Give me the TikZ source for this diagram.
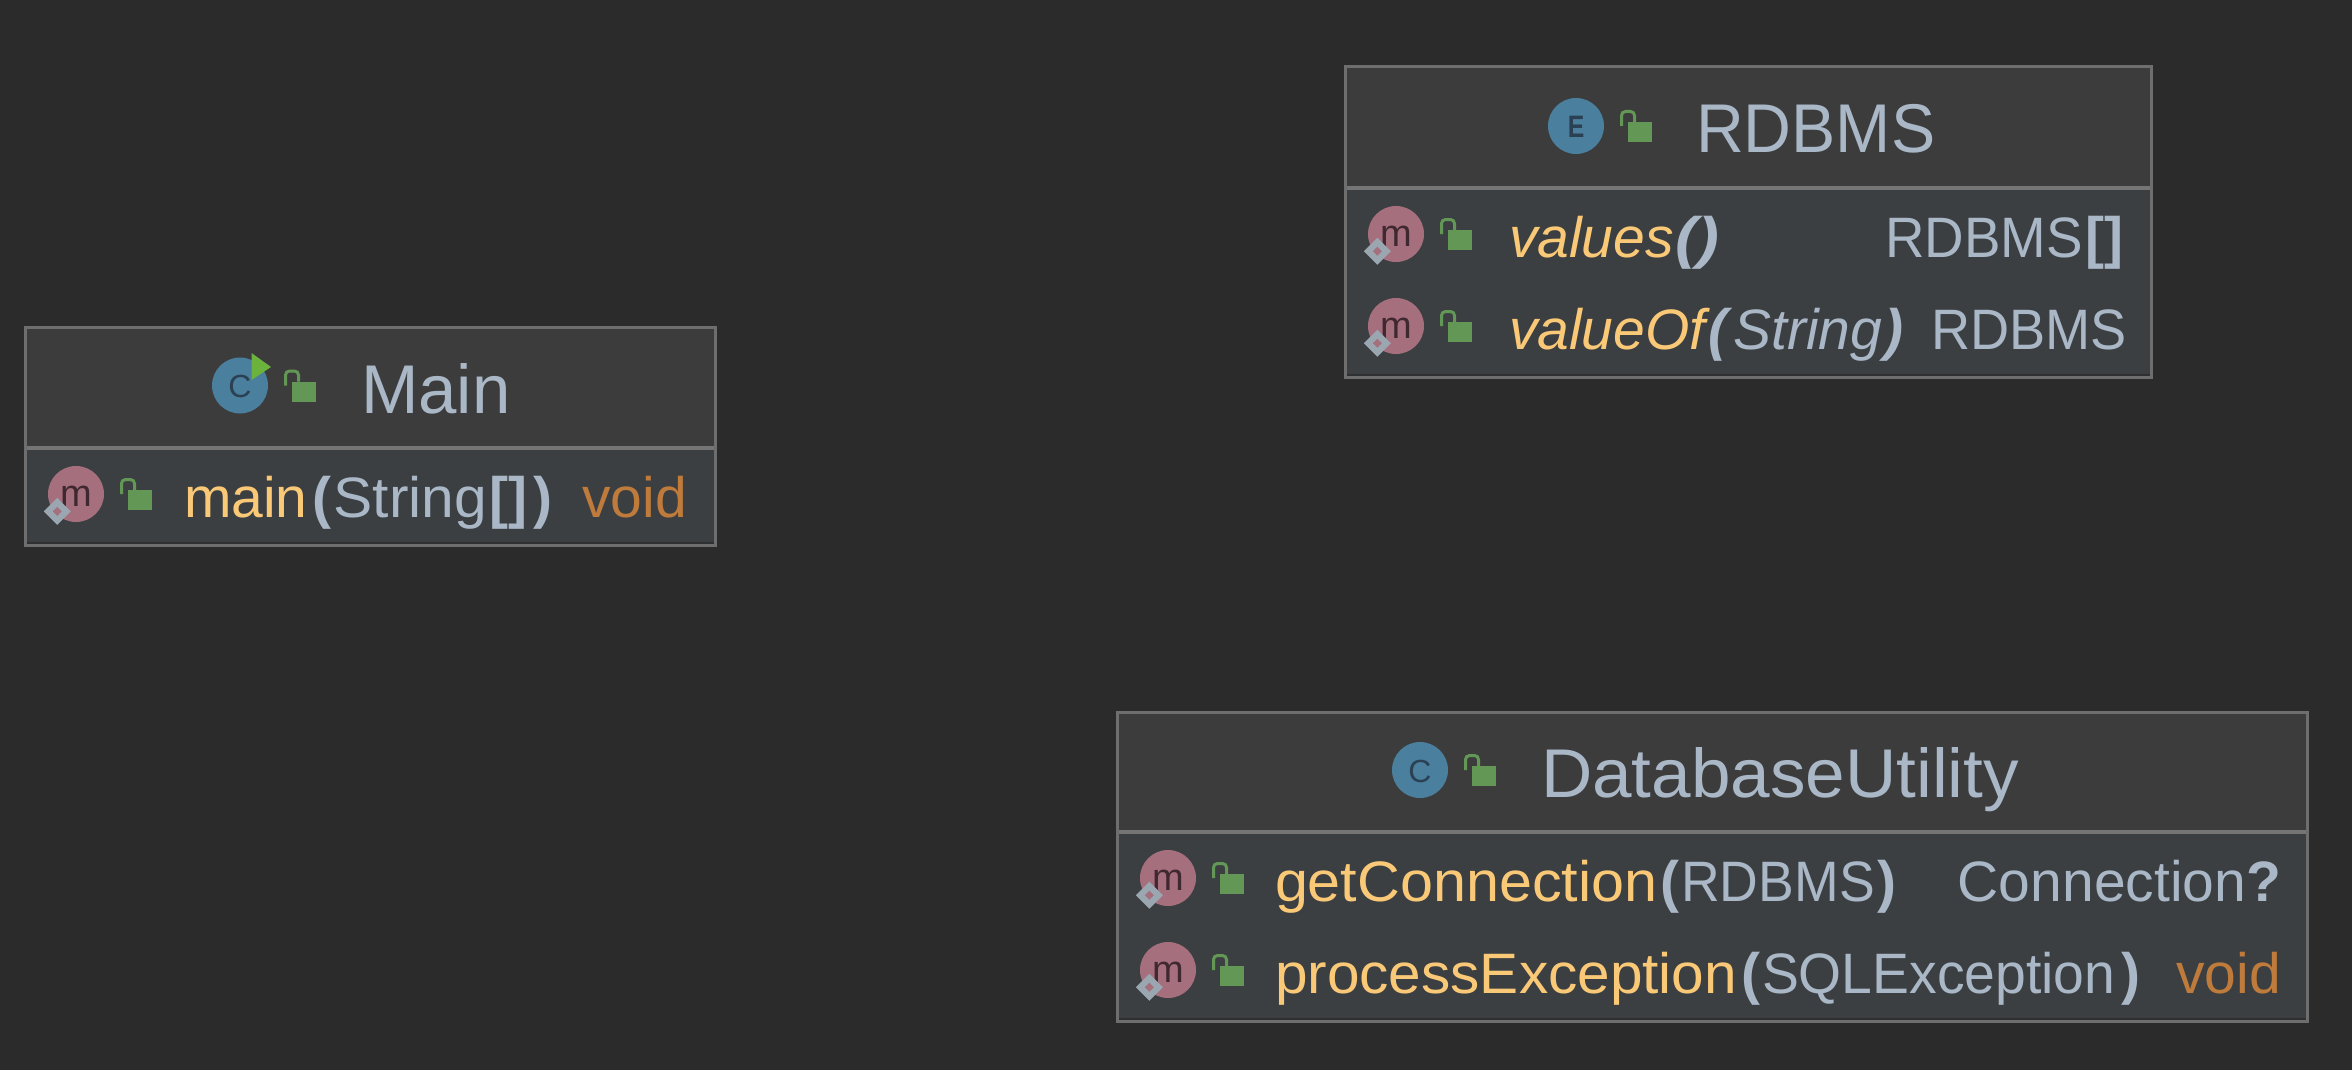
\documentclass[tikz,border=0pt]{standalone}
\usepackage{graphicx}
\usepackage{fontspec}
\setmainfont{Liberation Sans}
\definecolor{canvas}{HTML}{2B2B2B}
\definecolor{headfill}{HTML}{3C3C3C}
\definecolor{bodyfill}{HTML}{3C3F41}
\definecolor{frameline}{HTML}{6E6E6E}
\definecolor{dividerline}{HTML}{757575}
\definecolor{bottomshade}{HTML}{2F3031}
\definecolor{plain}{HTML}{A9B7C6}
\definecolor{methodname}{HTML}{FAC978}
\definecolor{keyword}{HTML}{BE7B3B}
\definecolor{iconblue}{HTML}{4A7F9E}
\definecolor{iconblueink}{HTML}{2B4153}
\definecolor{iconpink}{HTML}{A66F7E}
\definecolor{iconpinkink}{HTML}{3F2830}
\definecolor{lockgreen}{HTML}{629755}
\definecolor{playgreen}{HTML}{6CB33E}
\definecolor{diamondgrey}{HTML}{9AA7B0}
\newcommand{\titlesize}{\fontsize{69}{72}\selectfont}
\newcommand{\rowsize}{\fontsize{57}{60}\selectfont}
\newcommand{\pb}[1]{{\bfseries #1}}
\newcommand{\hs}[2]{\scalebox{#1}[1]{#2}}
\newcommand{\kn}[1]{\kern#1pt\relax}
\tikzset{
  x=1pt,y=-1pt,
  panel/.style={rectangle,inner sep=0pt,outer sep=0pt,anchor=north west,draw=none},
  frame/.style={draw=frameline,line width=3pt},
  divider/.style={draw=dividerline,line width=4pt},
  shade/.style={draw=bottomshade,line width=2pt},
  titletext/.style={inner sep=0pt,outer sep=0pt,anchor=base west,text=plain,font=\titlesize},
  rowtext/.style={inner sep=0pt,outer sep=0pt,anchor=base west,text=plain,font=\rowsize},
  rettext/.style={inner sep=0pt,outer sep=0pt,anchor=base east,text=plain,font=\rowsize},
  iconletter/.style={inner sep=0pt,outer sep=0pt,anchor=center},
}
% name, x1, y1, x2, ydiv, y2
\newcommand{\umlbox}[6]{%
  \pgfmathsetmacro{\boxw}{#4-#2}
  \pgfmathsetmacro{\headh}{#5-#3}
  \pgfmathsetmacro{\bodyh}{#6-#5}
  \node[panel,fill=headfill,minimum width=\boxw pt,minimum height=\headh pt] (#1head) at (#2,#3) {};
  \node[panel,fill=bodyfill,minimum width=\boxw pt,minimum height=\bodyh pt] (#1body) at (#2,#5) {};
  \draw[divider] (#1head.south west) -- (#1head.south east);
  \draw[frame] (#1head.north west) -- (#1head.north east) -- (#1body.south east) -- (#1body.south west) -- cycle;
  \draw[shade] ([xshift=1.5pt,yshift=2pt]#1body.south west) -- ([xshift=-1.5pt,yshift=2pt]#1body.south east);
}
\newcommand{\lockicon}{%
  \fill[lockgreen] (52,-4) rectangle (76,16);
  \draw[lockgreen,line width=3pt,rounded corners=4pt] (45.5,0) -- (45.5,-14.5) -- (58.5,-14.5) -- (58.5,-4);
}
% name, cx, cy, letter, letter size, weight
\newcommand{\typeicon}[6]{%
  \begin{scope}[shift={(#2,#3)}]
    \fill[iconblue] (0,0) circle[radius=28pt];
    \node[iconletter,text=iconblueink,font=\fontsize{#5}{#5}\selectfont#6] (#1) at (0,1) {#4};
    \lockicon
  \end{scope}
}
% name, cx, cy
\newcommand{\methodicon}[3]{%
  \begin{scope}[shift={(#2,#3)}]
    \fill[iconpink] (0,0) circle[radius=28pt];
    \node[iconletter,text=iconpinkink,font=\fontsize{38}{38}\selectfont] (#1) at (0,2) {m};
    \fill[diamondgrey] (-18.7,3.8) -- (-5.2,17.3) -- (-18.7,30.8) -- (-32.2,17.3) -- cycle;
    \fill[iconpink] (-18.7,12.8) -- (-14.2,17.3) -- (-18.7,21.8) -- (-23.2,17.3) -- cycle;
    \lockicon
  \end{scope}
}
\begin{document}
\begin{tikzpicture}
  \fill[canvas] (0,0) rectangle (2352,1070);
  \useasboundingbox (0,0) rectangle (2352,1070);

  % Main
  \umlbox{main}{25}{327}{715}{448}{545}
  \typeicon{maint}{240}{385.5}{C}{32}{}
  \fill[playgreen] (251.5,353) -- (271,367) -- (251.5,380) -- cycle;
  \node[titletext] (mainname) at (361,413) {Main};
  \methodicon{mainm}{76}{494}
  \node[rowtext] (mainrow) at (184,517) {\textcolor{methodname}{main}\kn{5}\pb{(}\kn{2}\hs{1.03}{String}\kn{3}\pb{[]}\kn{6}\pb{)}};
  \node[rettext,text=keyword] (mainret) at (687,517) {void};

  % RDBMS
  \umlbox{rd}{1345}{67}{2151}{188}{377}
  \typeicon{rdt}{1576}{126}{\hs{0.8}{E}}{31}{\bfseries}
  \node[titletext] (rdname) at (1696,153) {\hs{0.96}{RDBMS}};
  \methodicon{rdma}{1396}{234}
  \node[rowtext] (rdrowa) at (1509,257) {\itshape\textcolor{methodname}{values}\kn{2}\hs{1.15}{\pb{()}}};
  \node[rettext] (rdreta) at (2123,257) {\hs{0.96}{RDBMS}\kn{2}\pb{[]}};
  \methodicon{rdmb}{1396}{326}
  \node[rowtext] (rdrowb) at (1509,349) {\itshape\textcolor{methodname}{valueOf}\kn{3}\pb{(}\kn{6}String\kn{2}\pb{)}};
  \node[rettext] (rdretb) at (2127,349) {\hs{0.95}{RDBMS}};

  % DatabaseUtility
  \umlbox{db}{1117}{712}{2307}{832}{1021}
  \typeicon{dbt}{1420}{770}{C}{32}{}
  \node[titletext] (dbname) at (1541,797) {\hs{1.03}{DatabaseUtility}};
  \methodicon{dbma}{1168}{878}
  \node[rowtext] (dbrowa) at (1275,901) {\textcolor{methodname}{\hs{1.04}{getConnection}}\kn{3}\pb{(}\kn{2}\hs{0.94}{RDBMS}\kn{3}\pb{)}};
  \node[rettext] (dbreta) at (2281,901) {Connection\pb{?}};
  \methodicon{dbmb}{1168}{970}
  \node[rowtext] (dbrowb) at (1275,993) {\textcolor{methodname}{\hs{1.027}{processException}}\kn{4}\pb{(}\kn{2}\hs{0.97}{SQLException}\kn{6}\pb{)}};
  \node[rettext,text=keyword] (dbretb) at (2281,993) {void};
\end{tikzpicture}
\end{document}
